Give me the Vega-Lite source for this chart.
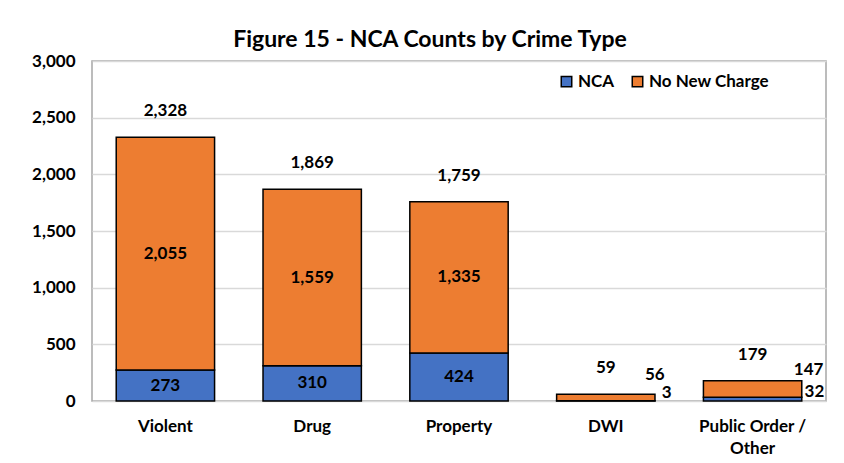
{
  "$schema": "https://vega.github.io/schema/vega-lite/v6.json",
  "width": 734,
  "height": 340,
  "autosize": {"type": "none"},
  "padding": {"left": 92, "top": 61, "right": 18, "bottom": 62},
  "background": "white",
  "title": {
    "text": "Figure 15 - NCA Counts by Crime Type",
    "font": "Lato",
    "fontSize": 23,
    "fontWeight": "bold",
    "color": "#000000",
    "anchor": "middle",
    "dx": -29,
    "offset": 0
  },
  "config": {
    "view": {"stroke": "#a6a6a6", "strokeWidth": 1.5},
    "font": "Lato",
    "text": {"font": "Lato", "fontWeight": "bold", "fontSize": 17, "color": "#000000"}
  },
  "data": {
    "values": [
      {"category": "Violent", "type": "NCA", "value": 273},
      {"category": "Violent", "type": "No New Charge", "value": 2055},
      {"category": "Drug", "type": "NCA", "value": 310},
      {"category": "Drug", "type": "No New Charge", "value": 1559},
      {"category": "Property", "type": "NCA", "value": 424},
      {"category": "Property", "type": "No New Charge", "value": 1335},
      {"category": "DWI", "type": "NCA", "value": 3},
      {"category": "DWI", "type": "No New Charge", "value": 56},
      {"category": "Public Order / Other", "type": "NCA", "value": 32},
      {"category": "Public Order / Other", "type": "No New Charge", "value": 147}
    ]
  },
  "encoding": {
    "x": {
      "field": "category",
      "type": "nominal",
      "sort": null,
      "scale": {"paddingInner": 0.33, "paddingOuter": 0.165},
      "axis": {
        "title": null,
        "labelAngle": 0,
        "labelFont": "Lato",
        "labelFontSize": 17,
        "labelFontWeight": "bold",
        "labelColor": "#000000",
        "labelPadding": 17,
        "labelLineHeight": 22,
        "labelExpr": "datum.value == 'Public Order / Other' ? ['Public Order /', 'Other'] : datum.value",
        "ticks": false,
        "domain": false
      }
    }
  },
  "layer": [
    {
      "mark": {"type": "bar", "stroke": "#000000", "strokeWidth": 1.5},
      "encoding": {
        "y": {
          "field": "value",
          "type": "quantitative",
          "stack": "zero",
          "scale": {"domain": [0, 3000]},
          "axis": {
            "title": null,
            "values": [0, 500, 1000, 1500, 2000, 2500, 3000],
            "format": ",d",
            "labelFont": "Lato",
            "labelFontSize": 17,
            "labelFontWeight": "bold",
            "labelColor": "#000000",
            "labelPadding": 17,
            "ticks": false,
            "domain": false,
            "gridColor": "#d9d9d9",
            "gridWidth": 1.5
          }
        },
        "color": {
          "field": "type",
          "type": "nominal",
          "scale": {"domain": ["NCA", "No New Charge"], "range": ["#4472C4", "#ED7D31"]},
          "legend": {
            "title": null,
            "orient": "none",
            "direction": "horizontal",
            "legendX": 466,
            "legendY": 12,
            "symbolType": "square",
            "symbolSize": 110,
            "symbolStrokeColor": "#000000",
            "symbolStrokeWidth": 1.5,
            "labelFont": "Lato",
            "labelFontSize": 17,
            "labelFontWeight": "bold",
            "labelColor": "#000000",
            "columnPadding": 14,
            "labelOffset": 3
          }
        },
        "order": {"field": "type", "sort": "ascending"}
      }
    },
    {
      "transform": [
        {"filter": "datum.category == 'Violent' || datum.category == 'Drug' || datum.category == 'Property'"},
        {"stack": "value", "groupby": ["category"], "sort": [{"field": "type", "order": "ascending"}], "as": ["y0", "y1"]},
        {"calculate": "(datum.y0 + datum.y1) / 2", "as": "mid"}
      ],
      "mark": {"type": "text", "baseline": "middle", "align": "center"},
      "encoding": {
        "y": {"field": "mid", "type": "quantitative"},
        "text": {"field": "value", "type": "quantitative", "format": ","}
      }
    },
    {
      "transform": [
        {"aggregate": [{"op": "sum", "field": "value", "as": "total"}], "groupby": ["category"]}
      ],
      "mark": {"type": "text", "baseline": "middle", "align": "center", "dy": -26},
      "encoding": {
        "y": {"field": "total", "type": "quantitative"},
        "text": {"field": "total", "type": "quantitative", "format": ","}
      }
    },
    {
      "transform": [{"filter": "datum.category == 'DWI' && datum.type == 'No New Charge'"}],
      "mark": {"type": "text", "baseline": "middle", "align": "center", "dx": 49, "dy": -20},
      "encoding": {
        "y": {"field": "value", "type": "quantitative"},
        "text": {"field": "value", "type": "quantitative"}
      }
    },
    {
      "transform": [{"filter": "datum.category == 'DWI' && datum.type == 'NCA'"}],
      "mark": {"type": "text", "baseline": "middle", "align": "left", "dx": 56, "dy": -8},
      "encoding": {
        "y": {"field": "value", "type": "quantitative"},
        "text": {"field": "value", "type": "quantitative"}
      }
    },
    {
      "transform": [{"filter": "datum.category == 'Public Order / Other' && datum.type == 'No New Charge'"}],
      "mark": {"type": "text", "baseline": "middle", "align": "center", "dx": 56, "dy": -14},
      "encoding": {
        "y": {"field": "value", "type": "quantitative"},
        "text": {"field": "value", "type": "quantitative"}
      }
    },
    {
      "transform": [{"filter": "datum.category == 'Public Order / Other' && datum.type == 'NCA'"}],
      "mark": {"type": "text", "baseline": "middle", "align": "left", "dx": 52, "dy": -5},
      "encoding": {
        "y": {"field": "value", "type": "quantitative"},
        "text": {"field": "value", "type": "quantitative"}
      }
    }
  ]
}
